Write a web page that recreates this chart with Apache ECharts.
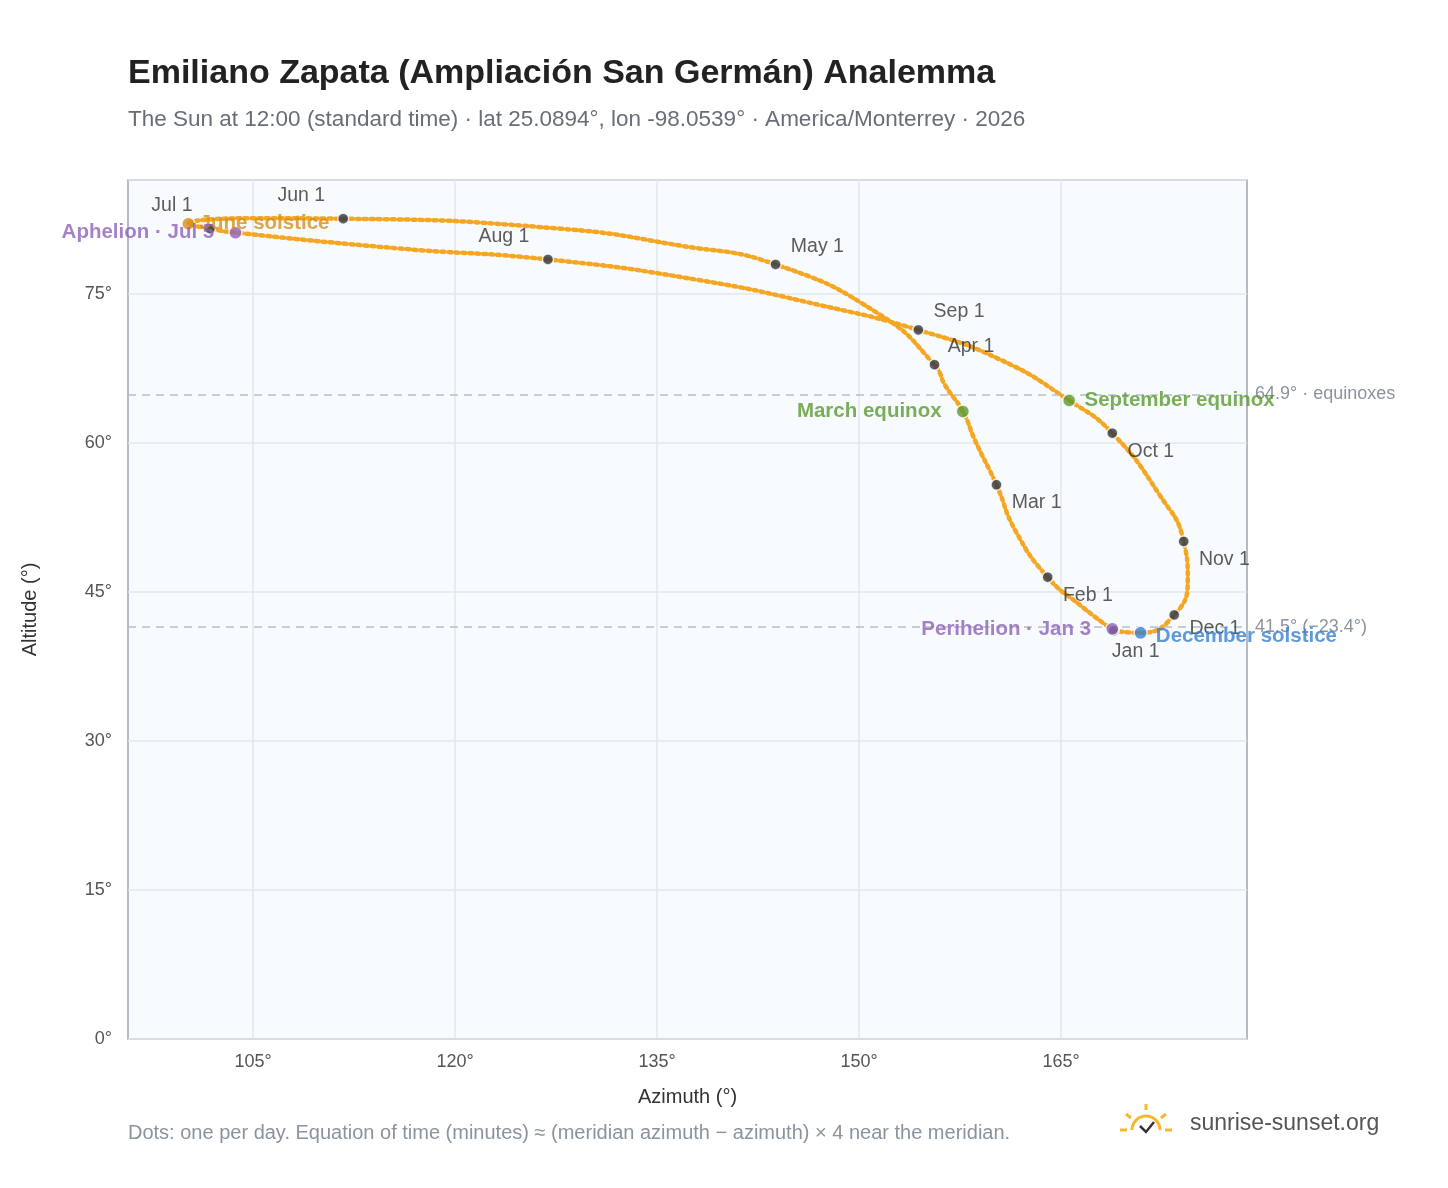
<!DOCTYPE html>
<html><head><meta charset="utf-8">
<script src="https://cdn.jsdelivr.net/npm/echarts@6/dist/echarts.min.js"></script>
<style>html,body{margin:0;padding:0;background:#fff}#c{width:1448px;height:1188px}</style>
</head><body><div id="c"></div>
<script>
// Analemma path (azimuth°, altitude°), Jan 1 -> Dec 31
const pathAz  = [168.9,166.4,164.0,161.6,160.2,158.6,157.7,156.4,155.6,151.6,143.8,136.7,127.8,111.7,104.8,100.2,101.8,103.7,115.9,126.9,138.2,147.1,154.4,160.5,165.6,168.8,172.3,174.1,174.4,173.4,170.9,168.9];
const pathAlt = [41.1,43.7,46.5,51.2,55.8,60.3,63.2,65.8,67.9,72.9,78.0,79.9,81.6,82.6,82.65,82.1,81.6,81.2,79.6,78.5,76.4,73.9,71.4,68.4,64.3,61.0,54.8,50.1,46.2,42.7,40.9,41.1];
// Month markers
const monthNames = ["Jan 1","Feb 1","Mar 1","Apr 1","May 1","Jun 1","Jul 1","Aug 1","Sep 1","Oct 1","Nov 1","Dec 1"];
const monthAz  = [168.9,164.0,160.2,155.6,143.8,111.7,101.8,126.9,154.4,168.8,174.1,173.4];
const monthAlt = [41.1,46.5,55.8,67.9,78.0,82.6,81.6,78.5,71.4,61.0,50.1,42.7];
// Events
const eventNames = ["March equinox","June solstice","September equinox","December solstice","Perihelion · Jan 3","Aphelion · Jul 5"];
const eventAz  = [157.7,100.2,165.6,170.9,168.8,103.7];
const eventAlt = [63.2,82.1,64.3,40.9,41.3,81.2];
const refLines = [64.9,41.5];
const refLabels = ["64.9° · equinoxes","41.5° (−23.4°)"];
const xTicks = [105,120,135,150,165];
const yTicks = [0,15,30,45,60,75];

const evColors = ["#5a9a2e","#d4901a","#5a9a2e","#3a7fcf","#8e63b8","#8e63b8"];
const evLabelPos = [
  {position:'left',distance:14},
  {position:'right',distance:4},
  {position:'right',distance:8},
  {position:'right',distance:8,offset:[0,4]},
  {position:'left',distance:14},
  {position:'left',distance:14},
];
const monthLabelPos = [
  {position:'bottom',offset:[22,0]},
  {position:'right',offset:[4,18]},
  {position:'right',offset:[4,18]},
  {position:'right',offset:[2,-18]},
  {position:'right',offset:[4,-18]},
  {position:'top',offset:[-42,-2]},
  {position:'top',offset:[-38,-2]},
  {position:'top',offset:[-44,-2]},
  {position:'right',offset:[4,-18]},
  {position:'right',offset:[4,18]},
  {position:'right',offset:[4,18]},
  {position:'right',offset:[4,14]},
];
const chart = echarts.init(document.getElementById('c'));
const F = 'Liberation Sans, Arial, sans-serif';
chart.setOption({
  animation:false,
  textStyle:{fontFamily:F},
  title:[{text:'Emiliano Zapata (Ampliación San Germán) Analemma',left:123,top:52,textStyle:{fontSize:34,fontWeight:'bold',color:'#222',fontFamily:F}},
         {text:'The Sun at 12:00 (standard time) · lat 25.0894°, lon -98.0539° · America/Monterrey · 2026',left:123,top:103,textStyle:{fontSize:22.5,fontWeight:'normal',color:'#666e78',fontFamily:F}}],
  grid:{left:128,right:201,top:180,bottom:149,show:true,backgroundColor:'#f8fbfe',borderColor:'#9aa5b1',borderWidth:1.5},
  xAxis:{type:'value',min:95.72,max:178.8,name:'Azimuth (°)',nameLocation:'middle',nameGap:48,
    nameTextStyle:{fontSize:20,color:'#333'},
    axisLabel:{fontSize:18,color:'#555',margin:14,customValues:xTicks,formatter:v=>v+'°'},
    axisLine:{show:false},axisTick:{show:false,customValues:xTicks},splitLine:{lineStyle:{color:'#e3e7ec',width:1.5}}},
  yAxis:{type:'value',min:0,max:86.5,interval:15,name:'Altitude (°)',nameLocation:'middle',nameGap:88,
    nameTextStyle:{fontSize:20,color:'#333'},
    axisLabel:{fontSize:18,color:'#555',margin:16,formatter:v=>yTicks.includes(v)?v+'°':''},
    axisLine:{show:false},axisTick:{show:false},splitLine:{lineStyle:{color:'#e3e7ec',width:1.5}}},
  graphic:[
    {type:'text',left:128,top:1123,style:{text:'Dots: one per day. Equation of time (minutes) ≈ (meridian azimuth − azimuth) × 4 near the meridian.',fontSize:20,fill:'#8a939e',fontFamily:F}},
    {type:'text',left:1190,top:1112,style:{text:'sunrise-sunset.org',fontSize:23,fill:'#555',fontFamily:F}},
    {type:'arc',shape:{cx:1146,cy:1130,r:14,startAngle:Math.PI,endAngle:2*Math.PI},style:{stroke:'#f5b82e',lineWidth:3,fill:'none'}},
    {type:'polyline',shape:{points:[[1140,1126],[1146,1132],[1154,1122]]},style:{stroke:'#333',lineWidth:2.5,fill:'none'}},
    {type:'line',shape:{x1:1146,y1:1104,x2:1146,y2:1110},style:{stroke:'#f5b82e',lineWidth:3}},
    {type:'line',shape:{x1:1126,y1:1114,x2:1131,y2:1118},style:{stroke:'#f5b82e',lineWidth:3}},
    {type:'line',shape:{x1:1166,y1:1114,x2:1161,y2:1118},style:{stroke:'#f5b82e',lineWidth:3}},
    {type:'line',shape:{x1:1120,y1:1130,x2:1127,y2:1130},style:{stroke:'#f5b82e',lineWidth:3}},
    {type:'line',shape:{x1:1165,y1:1130,x2:1172,y2:1130},style:{stroke:'#f5b82e',lineWidth:3}}
  ],
  series:[
    {type:'line',smooth:0.5,symbol:'none',data:pathAz.map((a,i)=>[a,pathAlt[i]]),
     lineStyle:{color:'#f5a623',width:4.5,type:[3,4],cap:'round'},
     markLine:{silent:true,symbol:'none',
       lineStyle:{color:'#b8bfc8',type:[8,6],width:1.5},
       label:{position:'end',fontSize:18,color:'#8a939e',distance:8,formatter:p=>refLabels[refLines.indexOf(p.value)]},
       data:refLines.map(v=>({yAxis:v}))}},
    {type:'scatter',symbolSize:11,z:5,data:monthAz.map((a,i)=>({value:[a,monthAlt[i]],
       label:Object.assign({show:true,formatter:monthNames[i],fontSize:19.5,color:'#333'},monthLabelPos[i])})),
     itemStyle:{color:'#2f3640',borderColor:'#fff',borderWidth:1.5}},
    {type:'scatter',symbolSize:13,z:6,data:eventAz.map((a,i)=>({value:[a,eventAlt[i]],
       itemStyle:{color:evColors[i],borderColor:'#fff',borderWidth:1.5},
       label:Object.assign({show:true,formatter:eventNames[i],fontSize:20.5,fontWeight:'bold',color:evColors[i]},evLabelPos[i])}))}
  ]
});
</script></body></html>
